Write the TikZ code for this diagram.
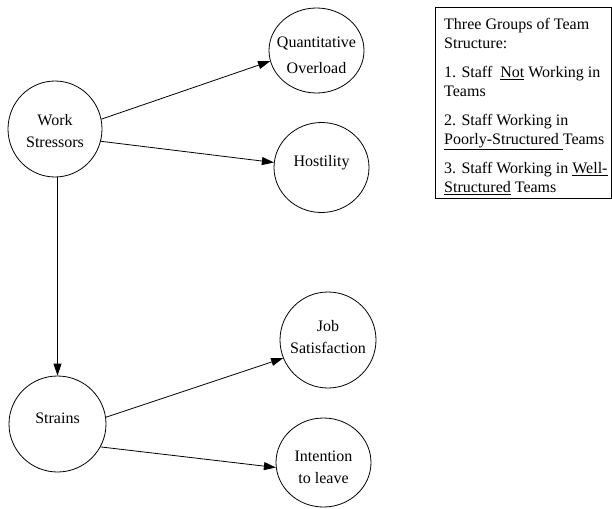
\documentclass[tikz,border=0pt]{standalone}
\usepackage{fontspec}
\setmainfont{Liberation Serif}
\usetikzlibrary{shapes.geometric,arrows.meta}
\begin{document}
\begin{tikzpicture}[x=1pt,y=-1pt,
  circ/.style={ellipse,draw,line width=0.8pt,inner sep=0pt},
  lbl/.style={align=center,font=\fontsize{16}{22}\selectfont,inner sep=0pt},
  arr/.style={-{Triangle[length=12pt,width=8pt]},line width=0.8pt}]
\useasboundingbox (0,0) rectangle (612,508);
% ellipses
\node[circ,minimum width=94pt,minimum height=96pt] (ws) at (55,129) {};
\node[circ,minimum width=95pt,minimum height=85pt] (qo) at (316.5,50.5) {};
\node[circ,minimum width=95pt,minimum height=90pt] (ho) at (321.5,167.5) {};
\node[circ,minimum width=97pt,minimum height=96pt] (st) at (57.5,424) {};
\node[circ,minimum width=96pt,minimum height=96pt] (js) at (328,340) {};
\node[circ,minimum width=95pt,minimum height=89pt] (il) at (323.5,462.5) {};
% labels
\node[lbl] (wst) at (55,131) {Work\\Stressors};
\node[lbl,font=\fontsize{16}{26}\selectfont] (qot) at (316.5,55) {Quantitative\\Overload};
\node[lbl] (hot) at (321.5,163) {Hostility};
\node[lbl] (stt) at (57.5,418) {Strains};
\node[lbl] (jst) at (328,337) {Job\\Satisfaction};
\node[lbl] (ilt) at (323.5,467) {Intention\\to leave};
% arrows
\draw[arr] (ws.12) -- (qo.193);
\draw[arr] (ws.-15) -- (ho.174);
\draw[arr] (st.north |- ws.south) -- (st.north);
\draw[arr] (st.8) -- (js.202);
\draw[arr] (st.-28) -- (il.186);
% legend box
\node[draw,line width=0.8pt,minimum width=176pt,minimum height=190pt,anchor=north west,inner sep=0pt] (key) at (435,7.5) {};
\node[anchor=north west,inner sep=0pt,align=left,font=\fontsize{16}{18.5}\selectfont] (keyt) at (444,18.2)
 {Three Groups of Team\\Structure:\\[11pt]
  1. Staff \ \underline{Not} Working in\\Teams\\[11pt]
  2. Staff Working in\\\underline{Poorly-Structured\ }Teams\\[11pt]
  3. Staff Working in \underline{Well-}\\\underline{Structured} Teams};
\end{tikzpicture}
\end{document}
